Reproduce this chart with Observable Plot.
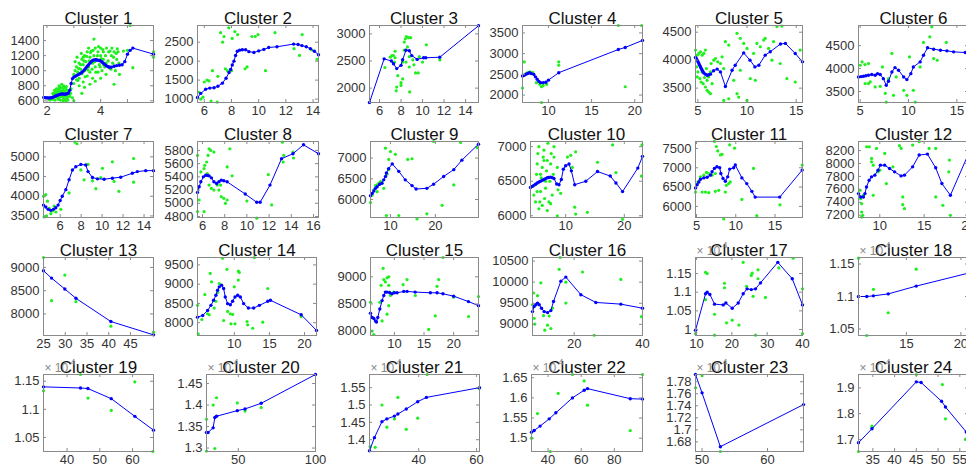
<!DOCTYPE html>
<html><head><meta charset="utf-8">
<script src="https://cdn.jsdelivr.net/npm/d3@7"></script>
<script src="https://cdn.jsdelivr.net/npm/@observablehq/plot@0.6"></script>
<style>
html,body{margin:0;padding:0;background:#fff;}
#chart{position:relative;width:966px;height:465px;overflow:hidden;font-family:"Liberation Sans",Arial,sans-serif;}
#chart svg{position:absolute;}
</style></head><body><div id="chart"></div>
<script>
// ---- titles ----
const titles = ["Cluster 1","Cluster 2","Cluster 3","Cluster 4","Cluster 5","Cluster 6","Cluster 7","Cluster 8","Cluster 9","Cluster 10","Cluster 11","Cluster 12","Cluster 13","Cluster 14","Cluster 15","Cluster 16","Cluster 17","Cluster 18","Cluster 19","Cluster 20","Cluster 21","Cluster 22","Cluster 23","Cluster 24"];

// ---- axis ranges (x, y) and tick values ----
const xDomains = [[1.87,5.97],[5.5,14.4],[5.07,15.2],[7.0,20.9],[4.76,15.64],[4.83,16.2],[4.41,14.9],[5.55,16.45],[5.56,29.6],[4.0,23.1],[4.87,18.5],[7.6,20.0],[25,50.3],[4.76,21.7],[5.96,24.2],[7.8,40],[9.7,40],[10.6,20.7],[32.8,66.4],[29.4,100],[23,61],[30,97],[49,65.5],[31.7,57.0]];
const yDomains = [[578,1600],[910,2940],[1735,3155],[1820,3680],[3243,4620],[3260,4940],[3460,5390],[4785,5935],[5566,7400],[5975,7075],[5712,7680],[7164,8340],[7536,9214],[7668,9692],[7919,9356],[8735,10585],[0.984,1.193],[1.04,1.16],[1.025,1.162],[1.292,1.471],[1.366,1.588],[1.467,1.658],[1.664,1.792],[1.653,1.952]];
const xTicks = [[2,3,4,5],[6,8,10,12,14],[6,8,10,12,14],[10,15,20],[5,10,15],[5,10,15],[6,8,10,12,14],[6,8,10,12,14,16],[10,20],[10,20],[5,10,15],[10,15,20],[25,30,35,40,45],[10,15,20],[10,15,20],[20,40],[10,20,30,40],[15,20],[40,50,60],[50,100],[40,60],[40,60,80],[50,60],[35,40,45,50,55]];
const xLabels = [[2,4],[6,8,10,12,14],[6,8,10,12,14],[10,15,20],[5,10,15],[5,10,15],[6,8,10,12,14],[6,8,10,12,14,16],[10,20],[10,20],[5,10,15],[10,15,20],[25,30,35,40,45],[10,15,20],[10,15,20],[20,40],[10,20,30,40],[15,20],[40,50,60],[50,100],[40,60],[40,60,80],[50,60],[35,40,45,50,55]];
const yTicks = [[600,800,1000,1200,1400],[1000,1500,2000,2500],[2000,2500,3000],[2000,2500,3000,3500],[3500,4000,4500],[3500,4000,4500],[3500,4000,4500,5000],[4800,5000,5200,5400,5600,5800],[6000,6500,7000],[6000,6500,7000],[6000,6500,7000,7500],[7200,7400,7600,7800,8000,8200],[8000,8500,9000],[8000,8500,9000,9500],[8000,8500,9000],[9000,9500,10000,10500],[1,1.05,1.1,1.15],[1.05,1.1,1.15],[1.05,1.1,1.15],[1.3,1.35,1.4,1.45],[1.4,1.45,1.5,1.55],[1.5,1.55,1.6,1.65],[1.68,1.7,1.72,1.74,1.76,1.78],[1.7,1.8,1.9]];
const scaled = [false,false,false,false,false,false,false,false,false,false,false,false,false,false,false,false,true,true,true,true,true,true,true,true];

// ---- blue fitted lines [x, y] ----
const line1 = [[1.88,645],[1.95,642],[2.0,640],[2.05,638],[2.1,640],[2.15,642],[2.2,645],[2.25,650],[2.3,660],[2.35,668],[2.4,675],[2.45,682],[2.5,688],[2.55,690],[2.6,690],[2.65,688],[2.7,690],[2.75,695],[2.8,705],[2.85,740],[2.9,830],[2.95,895],[3.0,915],[3.05,925],[3.1,935],[3.15,945],[3.2,955],[3.25,965],[3.3,980],[3.35,995],[3.4,1015],[3.45,1035],[3.5,1060],[3.55,1080],[3.6,1100],[3.65,1120],[3.7,1135],[3.75,1142],[3.8,1145],[3.85,1143],[3.9,1140],[3.95,1135],[4.0,1128],[4.05,1115],[4.1,1100],[4.15,1085],[4.2,1070],[4.25,1058],[4.3,1050],[4.35,1045],[4.4,1048],[4.5,1060],[4.6,1068],[4.7,1072],[4.8,1080],[4.9,1120],[5.0,1220],[5.1,1270],[5.2,1300],[5.97,1220]];
const line2 = [[5.5,1040],[5.74,1150],[6.1,1260],[6.4,1290],[6.72,1300],[7.0,1340],[7.33,1420],[7.6,1550],[7.82,1700],[7.94,1780],[8.06,1900],[8.18,2000],[8.3,2150],[8.43,2260],[8.6,2290],[8.8,2300],[9.04,2300],[9.28,2250],[9.65,2230],[10.0,2270],[10.38,2310],[10.74,2360],[11.35,2380],[12.57,2450],[12.9,2440],[13.18,2410],[13.5,2380],[13.8,2330],[14.1,2260],[14.4,2170]];
const line3 = [[5.07,1735],[6.43,2540],[7.1,2500],[7.3,2450],[7.6,2360],[8.0,2420],[8.15,2525],[8.46,2700],[8.77,2690],[9.0,2600],[9.5,2530],[10.1,2560],[10.3,2560],[11.6,2570],[15.2,3150]];
const line4 = [[7.0,2460],[7.2,2480],[7.4,2500],[7.6,2520],[7.8,2540],[8.0,2520],[8.3,2500],[8.5,2440],[8.7,2380],[8.9,2330],[9.1,2300],[9.4,2300],[9.7,2310],[10.0,2360],[11.2,2540],[18.1,3100],[18.9,3150],[20.9,3320]];
const line5 = [[4.76,4048],[4.85,4025],[4.93,4000],[5.02,3970],[5.1,3940],[5.18,3910],[5.27,3880],[5.35,3850],[5.44,3820],[5.52,3795],[5.6,3772],[5.77,3750],[5.94,3730],[6.1,3738],[6.28,3750],[6.6,3810],[6.96,3840],[7.3,3790],[7.8,3530],[8.48,3820],[8.8,3910],[9.66,4130],[10.3,4000],[10.8,3880],[11.2,3910],[11.85,4090],[12.36,4150],[13.4,4290],[13.9,4300],[14.9,4120],[15.64,3970]];
const line6 = [[4.83,3818],[5.1,3825],[5.35,3832],[5.6,3845],[5.86,3854],[6.2,3870],[6.55,3854],[6.8,3890],[7.07,3870],[7.4,3780],[7.7,3635],[7.93,3723],[8.28,3927],[8.6,4022],[8.97,3964],[9.5,3818],[9.83,3760],[10.24,3890],[10.5,4036],[11.2,4146],[11.55,4292],[11.97,4453],[12.6,4423],[13.3,4400],[13.97,4387],[14.66,4365],[15.86,4350],[16.2,4345]];
const line7 = [[4.41,3775],[4.63,3725],[4.85,3667],[5.1,3642],[5.36,3667],[5.58,3708],[5.8,3775],[6.0,3892],[6.2,4000],[6.54,4167],[6.85,4417],[7.17,4667],[7.49,4750],[7.97,4808],[8.44,4792],[8.66,4625],[9.08,4475],[9.55,4442],[10.19,4433],[10.98,4458],[11.77,4483],[12.88,4583],[13.36,4625],[14.16,4650],[14.9,4650]];
const line8 = [[5.55,5165],[5.7,5250],[5.85,5325],[6.08,5400],[6.29,5425],[6.45,5422],[6.59,5415],[6.8,5385],[7.03,5325],[7.27,5300],[7.48,5325],[7.69,5350],[7.92,5340],[8.22,5325],[9.85,5140],[10.89,5015],[11.19,5015],[12.08,5275],[13.12,5675],[14.15,5750],[15.1,5885],[16.45,5750]];
const line9 = [[5.56,6090],[5.93,6148],[6.3,6205],[6.67,6270],[7.04,6311],[7.6,6369],[8.1,6393],[8.5,6475],[8.9,6557],[9.1,6640],[9.6,6746],[10.4,6860],[11.85,6680],[13.3,6475],[14.8,6336],[15.7,6254],[18.1,6270],[19.6,6369],[21.85,6557],[24.1,6721],[25.9,6950],[29.6,7336]];
const line10 = [[4.0,6410],[4.3,6425],[4.57,6440],[4.85,6458],[5.14,6475],[5.43,6488],[5.71,6500],[6.0,6512],[6.29,6525],[6.57,6538],[6.86,6550],[7.14,6555],[7.43,6560],[7.7,6552],[8.0,6540],[8.46,6460],[8.86,6450],[9.26,6525],[9.6,6675],[10.0,6725],[10.57,6750],[10.97,6650],[11.54,6450],[13.43,6500],[15.43,6640],[17.6,6575],[18.57,6475],[19.7,6350],[22.3,6690],[23.1,6860]];
const line11 = [[4.87,6476],[5.08,6563],[5.3,6633],[5.5,6703],[5.93,6738],[6.35,6755],[6.77,6808],[6.98,6895],[7.28,6983],[7.6,7026],[7.95,7000],[8.1,6852],[8.38,6720],[8.67,6651],[8.97,6764],[9.22,6965],[9.73,7000],[9.94,7070],[10.78,6738],[11.4,6590],[12.05,6389],[12.47,6240],[15.6,6240],[18.46,6939]];
const line12 = [[7.6,7534],[7.85,7482],[8.15,7482],[8.33,7534],[8.5,7637],[8.8,7741],[9.07,7793],[9.44,7819],[9.8,7896],[10.07,7974],[10.55,7974],[11.1,7922],[11.67,7870],[12.4,7808],[12.78,7819],[13.7,7948],[14.44,8130],[15.37,8145],[16.3,7933],[17.0,7689],[17.96,7508],[20.0,8150]];
const line13 = [[25,8929],[26.85,8771],[29.9,8536],[32.46,8336],[40.5,7836],[50.3,7550]];
const line14 = [[4.76,8144],[5.5,8188],[6.2,8319],[6.67,8450],[7.05,8581],[7.38,8712],[7.62,8843],[7.86,8930],[8.19,8974],[8.48,8887],[8.71,8668],[9.05,8494],[9.43,8467],[9.76,8555],[10.1,8668],[10.48,8712],[10.86,8668],[11.33,8494],[12.0,8380],[12.76,8380],[13.57,8450],[14.76,8555],[15.14,8581],[19.52,8206],[21.7,7800]];
const line15 = [[5.96,8331],[6.24,8250],[6.52,8231],[6.8,8187],[6.97,8169],[7.19,8250],[7.53,8406],[7.92,8562],[8.2,8656],[8.48,8719],[8.76,8719],[9.2,8706],[9.6,8687],[10.0,8706],[10.45,8706],[11.57,8731],[12.13,8731],[13.5,8719],[16.07,8706],[17.2,8706],[18.2,8687],[20.0,8644],[22.5,8544],[24.2,8469]];
const line16 = [[7.8,9302],[8.29,9423],[8.78,9463],[9.27,9503],[9.76,9463],[10.44,9382],[11.22,9302],[12.2,9278],[13.17,9326],[13.95,9543],[16.1,10024],[17.56,10120],[21.95,9703],[26.34,9519],[33.66,9479],[40,9382]];
const line17 = [[9.7,0.998],[12.55,1.096],[13.0,1.1],[13.77,1.094],[15.1,1.068],[17.55,1.066],[18.3,1.071],[20.1,1.057],[21.8,1.071],[23.2,1.096],[24.3,1.109],[25.5,1.107],[26.7,1.109],[28.1,1.125],[33.0,1.18],[37.1,1.136],[40,1.066]];
const line18 = [[10.6,1.1],[11.36,1.1],[11.97,1.101],[13.33,1.104],[15.9,1.116],[20.7,1.136]];
const line19 = [[32.8,1.14],[44.1,1.138],[46.36,1.137],[53.5,1.119],[60.7,1.0875],[66.4,1.063]];
const line20 = [[29.4,1.336],[30.4,1.336],[33.7,1.347],[34.8,1.371],[35.9,1.374],[49.35,1.387],[54.35,1.391],[64.8,1.404],[100,1.471]];
const line21 = [[23,1.368],[24.7,1.406],[27.3,1.452],[29,1.46],[31.6,1.468],[32.8,1.474],[35.7,1.4885],[39.65,1.5096],[42.66,1.522],[61,1.55]];
const line22 = [[30,1.515],[31.6,1.519],[35.2,1.53],[40.7,1.548],[44.7,1.563],[54.7,1.6],[61.8,1.619],[63.8,1.623],[89.6,1.598],[97,1.597]];
const line23 = [[49,1.792],[50,1.7615],[52.8,1.672],[65.5,1.742]];
const line24 = [[31.7,1.687],[34.8,1.7415],[45,1.9235],[46.1,1.921],[50.8,1.848],[51.7,1.826],[56.5,1.7285],[57.0,1.719]];

// ---- green scatter points [x, y] ----
const pts1 = [[2.2,620],[2.25,680],[2.3,700],[2.35,650],[2.4,720],[2.4,760],[2.45,800],[2.45,640],[2.5,780],[2.5,700],[2.55,820],[2.55,660],[2.6,740],[2.6,690],[2.65,780],[2.65,620],[2.7,760],[2.7,700],[2.75,640],[2.8,720],[2.85,660],[2.3,610],[2.5,610],[2.6,600],[2.7,600],[2.1,610],[2.0,640],[2.35,760],[2.48,740],[2.58,770],[2.22,700],[2.28,740],[2.33,720],[2.38,690],[2.42,740],[2.47,770],[2.52,730],[2.53,660],[2.57,710],[2.62,800],[2.63,660],[2.67,730],[2.72,790],[2.73,660],[2.77,740],[2.82,690],[2.88,700],[2.9,760],[2.42,620],[2.62,630],[2.78,610],[2.95,640],[3.0,830],[3.0,950],[3.05,1000],[3.1,880],[3.1,1050],[3.15,980],[3.2,1100],[3.2,900],[3.25,1020],[3.3,1150],[3.3,960],[3.35,1080],[3.35,850],[3.4,1200],[3.4,1000],[3.45,1120],[3.5,1250],[3.5,930],[3.55,1050],[3.6,1180],[3.6,980],[3.65,1260],[3.7,1100],[3.7,900],[3.75,1200],[3.75,1420],[3.8,1050],[3.8,1300],[3.85,1150],[3.9,1250],[3.9,980],[3.95,1080],[4.0,1200],[4.0,1300],[4.05,1000],[4.1,1150],[4.1,1250],[4.2,1100],[4.2,950],[4.3,1250],[4.3,1050],[4.4,1200],[4.45,1100],[4.5,1250],[4.5,820],[4.55,1000],[4.6,1150],[4.65,1250],[4.7,950],[3.2,800],[3.3,700],[3.0,600],[3.4,780],[3.6,820],[3.8,860],[4.0,900],[4.15,1050],[3.35,1180],[3.55,1300],[3.05,1120],[3.12,1180],[3.18,1030],[3.28,1230],[3.38,1130],[3.42,920],[3.48,1190],[3.52,1010],[3.58,1130],[3.62,1240],[3.68,1020],[3.72,1270],[3.78,1120],[3.82,980],[3.88,1200],[3.92,1320],[3.98,1050],[4.02,1160],[4.08,1280],[4.12,1080],[4.18,1200],[4.22,1300],[4.28,1130],[4.35,1260],[4.38,1020],[4.42,1300],[4.48,1180],[4.52,1060],[4.58,1230],[4.62,1290],[4.68,1100],[3.25,1080],[3.15,870],[5.1,1600],[5.2,1040],[5.97,1250],[5.97,1180],[5.0,1270],[4.85,1260]];
const pts2 = [[5.6,1180],[5.75,1000],[5.9,1050],[6.0,1450],[6.2,1500],[6.35,1480],[6.6,1750],[6.5,950],[6.95,920],[7.0,1600],[7.2,2750],[7.35,2500],[7.45,2650],[7.55,1800],[7.7,1750],[7.8,2880],[8.0,1750],[8.05,2600],[8.25,2780],[8.45,2700],[9.0,1800],[9.15,1850],[9.5,2650],[9.75,2650],[9.95,2700],[10.5,1750],[11.2,2750],[12.6,2330],[13.2,2700],[13.0,2150],[13.9,2300],[14.3,2050]];
const pts3 = [[6.5,2380],[7.0,2570],[7.15,2600],[7.3,2600],[7.45,2560],[7.45,2680],[7.4,2480],[7.7,2230],[7.6,2020],[7.55,1950],[8.0,2100],[8.0,2050],[8.15,2170],[8.3,2850],[8.4,2910],[8.5,2950],[8.7,2930],[8.9,2930],[8.3,2700],[8.6,2760],[8.77,2580],[9.1,2520],[9.2,2430],[9.35,2280],[9.6,2280],[8.8,1930],[9.7,2580],[10.0,2480],[10.35,2800],[11.6,2520],[8.15,2480],[8.46,2480],[8.77,2390]];
const pts4 = [[7.0,2170],[7.2,2800],[7.45,2530],[7.7,2550],[7.9,2560],[8.2,2540],[8.6,2300],[9.0,2260],[9.2,2200],[9.4,2230],[9.8,2260],[9.2,1820],[11.2,2800],[11.2,2720],[18.1,3680],[18.9,2200],[20.8,3680]];
const pts5 = [[4.76,4180],[4.93,4090],[5.1,4120],[5.27,4150],[5.44,4090],[5.6,4120],[5.77,4180],[4.86,3880],[5.0,3790],[5.2,3670],[5.33,3610],[5.54,3580],[5.77,3520],[5.94,3460],[6.1,3430],[6.28,3400],[6.45,3580],[6.1,3700],[5.87,3850],[6.35,3940],[6.62,4000],[6.79,4030],[7.02,3970],[7.3,3940],[7.46,4060],[7.63,3850],[7.63,3280],[8.14,3310],[8.65,3640],[8.98,3400],[9.15,3340],[9.32,3820],[8.98,4480],[9.32,4390],[9.66,4300],[10.0,4210],[10.0,3280],[10.33,3670],[10.84,3640],[10.67,4120],[11.0,4300],[11.35,4240],[11.69,4360],[11.85,4390],[12.19,4210],[12.53,4000],[12.7,4330],[13.04,4600],[13.54,4610],[13.37,3940],[14.05,3670],[14.9,3610],[15.4,4180],[7.8,4330],[8.14,4270],[4.93,3700],[5.44,3790],[5.94,3640],[5.67,3690],[6.28,3790]];
const pts6 = [[5.0,4073],[5.2,4146],[5.5,4088],[5.86,4110],[6.04,3708],[5.52,3672],[5.86,3672],[6.55,3600],[7.07,3614],[7.3,4036],[7.6,3460],[7.93,3780],[8.28,4330],[7.7,3270],[8.45,3416],[8.72,3818],[9.5,3526],[9.83,3416],[10.1,4255],[10.5,3526],[10.7,3270],[11.2,4036],[11.55,4570],[12.2,4693],[12.4,4912],[12.6,4218],[12.97,4182],[13.9,4570]];
const pts7 = [[4.41,4000],[4.63,4042],[4.79,3875],[4.95,3692],[5.11,3558],[5.27,3625],[5.43,3750],[5.59,3600],[6.06,3667],[4.47,3475],[4.7,3500],[6.85,4083],[7.4,5375],[7.6,5333],[7.97,4667],[8.28,4417],[8.66,4808],[9.08,4392],[9.4,4192],[9.87,4475],[10.03,4708],[10.98,4875],[11.14,4375],[11.6,4125],[13.0,4958],[13.0,4358]];
const pts8 = [[5.55,5725],[5.7,5050],[5.55,4875],[5.85,5475],[6.14,4875],[6.2,5575],[6.38,5625],[6.5,5725],[6.59,5825],[6.74,5800],[7.03,5775],[6.14,5525],[6.44,5450],[6.59,5275],[6.8,5225],[7.03,5200],[7.33,5275],[7.48,5200],[7.63,5275],[7.69,5100],[7.92,5075],[8.07,5000],[8.22,5050],[8.22,5550],[8.46,5825],[8.67,5415],[10.0,5035],[10.89,4775],[11.93,5435],[12.23,4975],[13.2,5925],[13.32,5725],[13.27,5625],[14.15,5775],[14.2,5685]];
const pts9 = [[5.56,5926],[5.93,6106],[6.3,6229],[6.67,6336],[7.04,6352],[7.41,6393],[7.78,6434],[8.15,6393],[7.04,6188],[8.52,6270],[8.89,7238],[9.63,6967],[10.0,7156],[11.1,7090],[13.85,6967],[14.8,6984],[9.1,5614],[11.85,5614],[15.9,5532],[18.1,5655],[19.6,7400],[21.5,5860],[24.1,6352],[25.6,7377],[29.3,7254],[9.26,6615],[9.63,6721]];
const pts10 = [[4.57,6300],[4.86,6450],[5.03,6600],[5.14,6750],[5.26,6900],[5.43,7000],[5.6,6200],[5.71,6350],[5.83,6550],[6.0,6700],[6.17,6850],[6.29,6950],[6.4,6250],[6.57,6400],[6.74,6650],[6.86,6800],[6.97,7050],[7.14,6200],[7.31,6500],[7.43,6750],[7.54,6900],[7.71,6300],[7.89,6600],[8.0,7000],[5.43,6100],[6.0,6150],[6.86,6075],[7.43,6175],[8.0,6850],[8.57,6700],[8.69,6375],[9.14,6325],[8.57,6000],[10.3,6850],[10.86,6875],[11.14,6700],[11.7,6925],[11.54,6125],[11.7,6025],[13.7,6050],[15.43,6775],[18.0,7025],[18.57,6625],[19.7,5950],[22.9,6575],[23.0,7025],[4.29,6425],[4.86,6200],[5.14,6350],[5.71,6600],[6.29,6800],[6.57,6500]];
const pts11 = [[4.87,6371],[5.17,6633],[5.5,6764],[5.93,6808],[6.27,6878],[6.56,6852],[6.98,6808],[7.4,6852],[5.72,6371],[6.14,6371],[6.56,6354],[7.28,7681],[7.53,7550],[7.7,7437],[8.04,7332],[8.25,7349],[7.4,6389],[7.83,6415],[8.67,6371],[8.8,6546],[9.1,6590],[9.3,6633],[8.46,5673],[9.22,7594],[9.85,7506],[10.78,6179],[12.26,6983],[12.68,5760],[15.63,6040],[18.46,7070]];
const pts12 = [[7.78,7586],[7.85,7456],[7.96,7378],[7.96,7249],[8.07,7197],[8.15,7508],[8.52,8259],[8.81,8259],[9.07,8078],[9.07,8026],[9.26,7974],[9.26,7508],[9.63,8233],[9.81,7870],[10.0,7896],[10.56,8155],[10.74,7689],[11.48,7948],[12.22,8275],[12.41,8233],[12.59,7482],[12.59,7363],[12.78,7301],[13.7,8285],[14.44,8337],[15.56,8233],[16.3,8233],[16.3,7482],[17.11,7352],[17.78,7870],[17.85,8052],[17.96,7197],[7.96,7171]];
const pts13 = [[25.0,9214],[26.85,8286],[29.9,8836],[32.46,8264],[40.5,7736],[50.3,7607]];
const pts14 = [[4.76,8450],[4.86,7708],[5.38,8083],[5.81,8729],[6.19,8232],[6.43,8206],[6.57,9279],[6.76,9061],[7.14,8380],[7.38,8555],[7.62,8782],[7.86,9017],[8.33,9672],[8.48,8057],[8.95,9384],[9.05,8293],[9.43,8232],[9.52,7970],[9.76,8214],[10.0,8930],[10.1,7970],[10.57,9340],[10.71,9306],[10.57,9105],[11.81,8031],[11.9,7944],[12.62,7856],[14.05,8013],[14.76,8887],[12.86,9690],[19.52,8162]];
const pts15 = [[5.96,8531],[6.24,8000],[6.52,7937],[7.53,8531],[7.75,8844],[7.92,8187],[8.09,9156],[8.2,8950],[8.48,8906],[8.76,8981],[9.04,8844],[9.04,9000],[9.21,8719],[9.33,8656],[8.76,8312],[9.04,8469],[9.89,8719],[11.46,8856],[12.13,8950],[13.54,8656],[15.79,8031],[16.9,8281],[17.19,8825],[17.47,8950],[18.2,9356],[20.0,8625],[22.53,8269],[24.2,8637]];
const pts16 = [[7.8,9463],[8.1,9743],[8.29,9142],[8.49,9005],[9.27,9679],[10.24,9984],[11.02,9206],[11.41,8861],[12.2,8981],[12.68,9198],[13.17,8901],[13.66,9382],[15.9,10585],[15.61,10305],[17.56,10000],[17.56,9503],[22.44,10241],[25.85,8741],[33.66,10064],[39.7,9182]];
const pts17 = [[9.7,0.989],[12.55,1.153],[13.0,1.15],[12.55,1.08],[15.1,1.041],[15.1,0.985],[17.9,1.124],[17.9,1.112],[18.5,1.018],[20.1,1.025],[22.0,1.012],[23.2,1.18],[24.15,1.116],[25.5,1.145],[25.75,1.151],[26.0,1.089],[26.7,0.985],[27.4,1.16],[27.4,1.136],[29.5,1.086],[33.3,1.165],[37.36,1.191],[40.0,1.109],[40.0,0.989]];
const pts18 = [[10.6,1.159],[11.36,1.04],[11.97,1.111],[13.33,1.075],[15.9,1.142]];
const pts19 = [[32.8,1.133],[44.1,1.162],[46.4,1.12],[53.5,1.098],[60.7,1.149],[66.2,1.025]];
const pts20 = [[29.4,1.367],[29.4,1.293],[33.7,1.4],[34.8,1.299],[35.9,1.417],[49.35,1.405],[54.35,1.386],[64.8,1.394]];
const pts21 = [[23.2,1.38],[24.96,1.378],[27.3,1.5],[29,1.436],[31.6,1.46],[32.8,1.522],[35.7,1.43],[39.65,1.462],[42.9,1.588],[60.8,1.548]];
const pts22 = [[30,1.5],[33.6,1.561],[41.3,1.467],[46.1,1.611],[54.7,1.658],[61.8,1.642],[63.8,1.582],[89.6,1.519],[97,1.658]];
const pts23 = [[49,1.77],[50,1.79],[52.8,1.664]];
const pts24 = [[31.7,1.653],[34.8,1.752],[34.8,1.746],[45,1.952],[51,1.913],[51.7,1.78],[56.3,1.7]];

const lines = [line1,line2,line3,line4,line5,line6,line7,line8,line9,line10,line11,line12,line13,line14,line15,line16,line17,line18,line19,line20,line21,line22,line23,line24];
const scatters = [pts1,pts2,pts3,pts4,pts5,pts6,pts7,pts8,pts9,pts10,pts11,pts12,pts13,pts14,pts15,pts16,pts17,pts18,pts19,pts20,pts21,pts22,pts23,pts24];

// ---- layout (pixel boxes of each axes) ----
const boxX = [[43,153],[197,318],[369,478],[522,642],[695,802],[858,968],
              [43,153],[197,318],[370,478],[530,642],[695,802],[858,968],
              [43,153],[197,316],[370,478],[532,642],[695,802],[858,968],
              [43,153],[206,315],[369,479],[531,642],[695,803],[858,968]];
const boxY = [[25,102],[141,217],[257,335],[374,451]];

const fmt = d => String(+(+d).toFixed(6));
const chart = document.getElementById("chart");
const axisGray = "#8a8a8a";

for (let i = 0; i < 24; i++) {
  const [l, r] = boxX[i];
  const [t, b] = boxY[Math.floor(i / 6)];
  const W = r - l, H = b - t;
  const mL = 46, mR = 6, mT = 30, mB = 20;
  const [x0, x1] = xDomains[i], [y0, y1] = yDomains[i];
  const tx = 3 / H * (y1 - y0), ty = 3 / W * (x1 - x0);
  const marks = [
    Plot.dot(scatters[i], {x: d => d[0], y: d => d[1], r: 1.6, fill: "#1ef01e", stroke: null}),
    Plot.line(lines[i], {x: d => d[0], y: d => d[1], stroke: "#0000ff", strokeWidth: 1}),
    Plot.dot(lines[i], {x: d => d[0], y: d => d[1], r: 1.7, fill: "#0000ff", stroke: null}),
    // inward ticks on all four sides
    Plot.ruleX(xTicks[i], {x: d => d, y1: y0, y2: y0 + tx, stroke: axisGray}),
    Plot.ruleX(xTicks[i], {x: d => d, y1: y1, y2: y1 - tx, stroke: axisGray}),
    Plot.ruleY(yTicks[i], {y: d => d, x1: x0, x2: x0 + ty, stroke: axisGray}),
    Plot.ruleY(yTicks[i], {y: d => d, x1: x1, x2: x1 - ty, stroke: axisGray}),
    Plot.frame({stroke: axisGray, strokeWidth: 1}),
    Plot.axisX({ticks: xLabels[i], tickSize: 0, tickPadding: 3, tickFormat: fmt, label: null, fontSize: 13}),
    Plot.axisY({ticks: yTicks[i], tickSize: 0, tickPadding: 4, tickFormat: fmt, label: null, fontSize: 13}),
    Plot.text([titles[i]], {text: d => d, frameAnchor: "top", lineAnchor: "bottom", dy: -2, fontSize: 17, fill: "#111"})
  ];
  if (scaled[i]) {
    marks.push(Plot.text(["\u00d7 10"], {text: d => d, frameAnchor: "top-left", textAnchor: "start", lineAnchor: "bottom", dx: 1, dy: -3, fontSize: 12, fill: "#888"}));
    marks.push(Plot.text(["4"], {text: d => d, frameAnchor: "top-left", textAnchor: "start", lineAnchor: "bottom", dx: 27, dy: -10, fontSize: 9, fill: "#888"}));
  }
  const svg = Plot.plot({
    width: W + mL + mR,
    height: H + mT + mB,
    marginLeft: mL, marginRight: mR, marginTop: mT, marginBottom: mB,
    x: {domain: xDomains[i]},
    y: {domain: yDomains[i]},
    style: {background: "none", color: "#333", fontFamily: "'Liberation Sans', Arial, sans-serif", overflow: "visible"},
    marks
  });
  svg.style.position = "absolute";
  svg.style.left = (l - mL) + "px";
  svg.style.top = (t - mT) + "px";
  svg.style.maxWidth = "none";
  chart.appendChild(svg);
}
</script></body></html>
